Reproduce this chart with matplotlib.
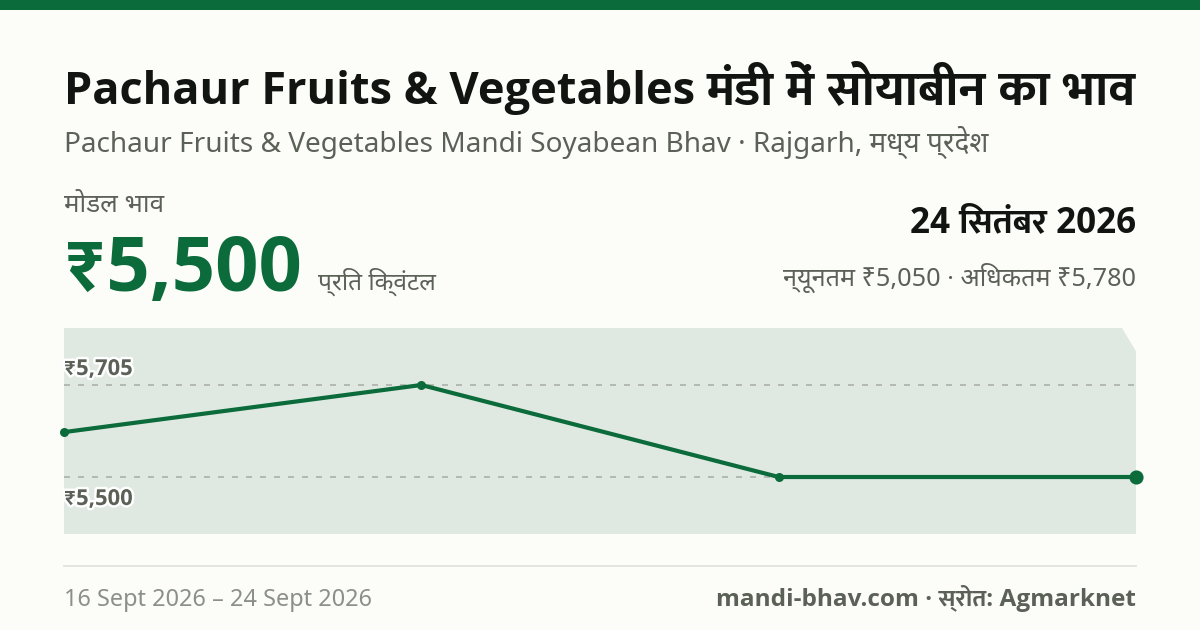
import re
import matplotlib
matplotlib.use('Agg')
import matplotlib.pyplot as plt
import matplotlib.patheffects as pe

W, H = 1200, 630
GREEN = '#0b6b3a'
BG = '#fcfdf9'
BAND = '#dfe9e2'
DARK = '#111411'
MID = '#5c6158'
LIGHT = '#8b9088'
REGULAR = ['Noto Sans', 'Noto Sans Devanagari', 'DejaVu Sans']
BOLD = ['Open Sans', 'Mukta', 'DejaVu Sans']

# values
idx = [0, 1, 2, 3]
modal = [5600, 5705, 5500, 5500]
high = [7110, 7110, 7110, 5780]
low = [5050, 5050, 5050, 5050]
ref_values = [5705, 5500]
ref_labels = ['₹5,705', '₹5,500']

title_en = 'Pachaur Fruits & Vegetables'
title_hi = 'मंडी में सोयाबीन का भाव'
subtitle = 'Pachaur Fruits & Vegetables Mandi Soyabean Bhav · Rajgarh, मध्य प्रदेश'
modal_label = 'मोडल भाव'
price = '₹5,500'
unit = 'प्रति क्विंटल'
date = '24 सितंबर 2026'
minmax = 'न्यूनतम ₹5,050 · अधिकतम ₹5,780'
period = '16 Sept 2026 – 24 Sept 2026'
source = 'mandi-bhav.com · स्रोत: Agmarknet'

plt.rcParams['font.family'] = REGULAR

fig = plt.figure(figsize=(W / 100, H / 100), dpi=100, facecolor=BG)


def visual(s):
    # matplotlib does no shaping, so the short i has to go before its consonant cluster
    return re.sub('((?:[क-ह]\u094d)*[क-ह])\u093f', '\u093f\\1', s)


def put(x, y, s, px, color, bold=False, ha='left', **kw):
    # x, y in picture pixels, y is the baseline from the top
    return fig.text(x / W, 1 - y / H, visual(s), fontsize=px * 0.72, color=color,
                    family=BOLD if bold else REGULAR, weight='bold' if bold else 'normal',
                    ha=ha, va='baseline', **kw)


# top bar
fig.add_artist(plt.Rectangle((0, 1 - 10 / H), 1, 10 / H, transform=fig.transFigure,
                             facecolor=GREEN, edgecolor='none'))
# footer rule
fig.add_artist(plt.Line2D([64 / W, 1136 / W], [1 - 566 / H] * 2, color='#e3e6e0', lw=1.4))

put(64, 104, title_en, 45.2, DARK, True)
put(1136, 104, title_hi, 49.5, DARK, True, ha='right')
put(64, 152, subtitle, 28, MID)
put(64, 212, modal_label, 26, MID)
put(68, 291, price, 76, GREEN, True)
put(318, 290, unit, 24.5, MID)
put(1136, 232, date, 35, DARK, True, ha='right')
put(1136, 286, minmax, 25.2, MID, ha='right')
put(64, 606, period, 23.5, LIGHT)
put(1136, 606, source, 24.4, MID, True, ha='right')

ax = fig.add_axes([64 / W, 1 - 534 / H, 1072 / W, 206 / H])
ax.set_facecolor('none')
ax.set_xlim(0, 3)
ax.set_ylim(5373, 5832)
ax.axis('off')

ax.fill_between(idx, low, high, color=BAND, lw=0, zorder=1)
for v in ref_values:
    ax.axhline(v, color='#b4bab2', lw=1.44, dashes=(3, 4), zorder=2)
ax.plot(idx, modal, color=GREEN, lw=3, zorder=3, solid_joinstyle='round')
ax.plot(idx[:-1], modal[:-1], 'o', color=GREEN, ms=6.5, mew=0, clip_on=False, zorder=4)
ax.plot(idx[-1:], modal[-1:], 'o', color=GREEN, ms=10.2, mew=0, clip_on=False, zorder=4)

stroke = [pe.withStroke(linewidth=3.5, foreground='white')]
put(65, 375, ref_labels[0], 22, MID, True, path_effects=stroke)
put(65, 505, ref_labels[1], 22, MID, True, path_effects=stroke)

fig.savefig('out.png', dpi=100, facecolor=BG)
